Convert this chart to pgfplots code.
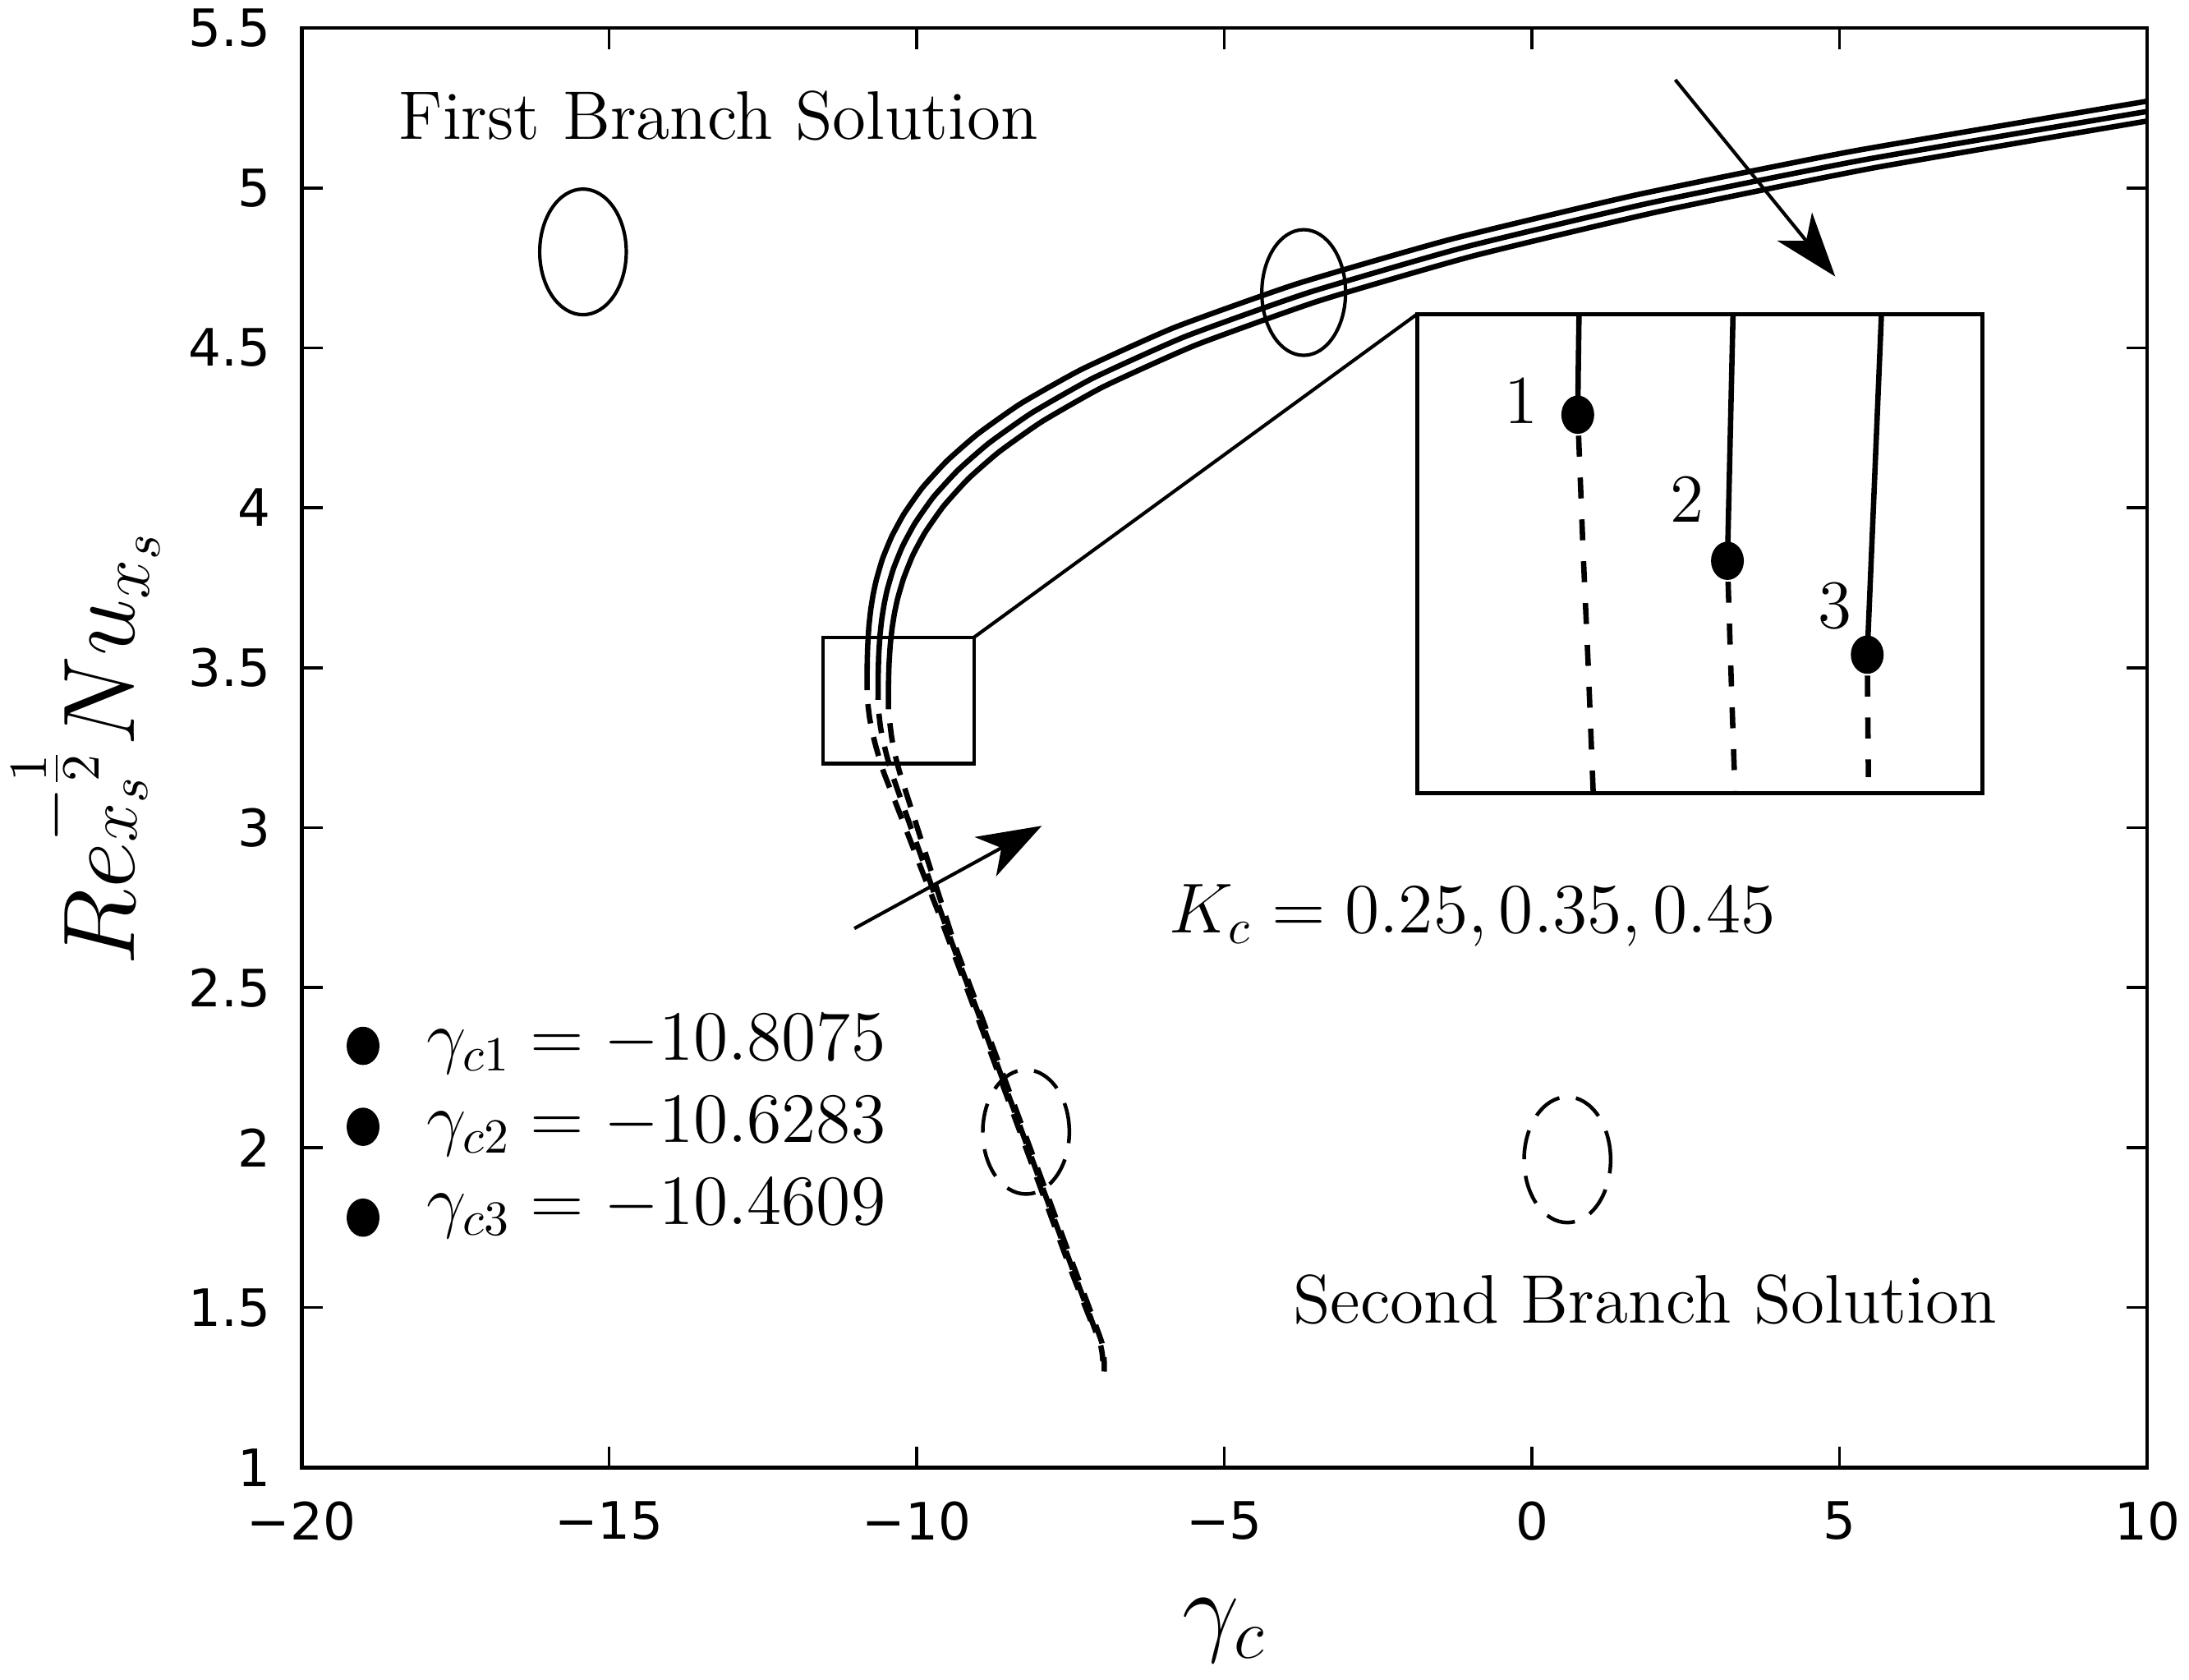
\documentclass[border=0pt]{standalone}
\usepackage{fontspec}
\usepackage{pgfplots}
\pgfplotsset{compat=1.18}
\usetikzlibrary{arrows.meta}
\newfontfamily\tickfont{DejaVu Sans}
\begin{document}
\begin{tikzpicture}
\begin{axis}[
  at={(0,0)}, anchor=south west,
  width=13.22cm, height=10.31cm, scale only axis,
  xmin=-20, xmax=10, ymin=1, ymax=5.5,
  xtick={-20,-15,-10,-5,0,5,10},
  xticklabels={−20,−15,−10,−5,0,5,10},
  ytick={1,1.5,2,2.5,3,3.5,4,4.5,5,5.5},
  yticklabels={1,1.5,2,2.5,3,3.5,4,4.5,5,5.5},
  tick align=inside,
  major tick length=1.5mm,
  tick style={black, line width=0.6pt},
  axis line style={line width=0.8pt},
  ticklabel style={font=\tickfont\fontsize{10.5}{12}\selectfont},
  xticklabel style={yshift=-1.2mm},
  yticklabel style={xshift=-1mm},
  xlabel={$\gamma_c$},
  ylabel={$Re_{x_s}^{-\frac{1}{2}}Nu_{x_s}$},
  xlabel style={font=\fontsize{22}{24}\selectfont, at={(axis description cs:0.5,-0.1135)}, anchor=center},
  ylabel style={font=\fontsize{22}{24}\selectfont, at={(axis description cs:-0.0908,0.5)}, anchor=base},
  clip=false,
]
% first branch (solid)
\addplot[black, line width=1.1pt, smooth, tension=0.3] coordinates {
(-10.8075,3.430) (-10.8055,3.509) (-10.7975,3.567) (-10.7775,3.629) (-10.7475,3.682)
(-10.7075,3.730) (-10.6575,3.774) (-10.5575,3.840) (-10.4075,3.910) (-10.2075,3.981)
(-9.9075,4.063) (-9.5075,4.147) (-9.0075,4.231) (-8.3075,4.326) (-7.3075,4.434)
(-5.8075,4.564) (-3.8075,4.701) (-1.3075,4.840) (1.6925,4.978) (5.1925,5.114) (10,5.271)};
\addplot[black, line width=1.1pt, smooth, tension=0.3] coordinates {
(-10.6283,3.400) (-10.6263,3.479) (-10.6183,3.537) (-10.5983,3.599) (-10.5683,3.652)
(-10.5283,3.700) (-10.4783,3.745) (-10.3783,3.810) (-10.2283,3.881) (-10.0283,3.952)
(-9.7283,4.034) (-9.3283,4.118) (-8.8283,4.202) (-8.1283,4.297) (-7.1283,4.406)
(-5.6283,4.536) (-3.6283,4.673) (-1.1283,4.813) (1.8717,4.951) (5.3717,5.087) (10,5.239)};
\addplot[black, line width=1.1pt, smooth, tension=0.3] coordinates {
(-10.4609,3.370) (-10.4589,3.450) (-10.4509,3.508) (-10.4309,3.570) (-10.4009,3.623)
(-10.3609,3.671) (-10.3109,3.716) (-10.2109,3.781) (-10.0609,3.853) (-9.8609,3.924)
(-9.5609,4.006) (-9.1609,4.091) (-8.6609,4.175) (-7.9609,4.270) (-6.9609,4.379)
(-5.4609,4.509) (-3.4609,4.647) (-0.9609,4.787) (2.0391,4.925) (5.5391,5.062) (10,5.209)};
% second branch (dashed)
\addplot[black, line width=1.1pt, smooth, tension=0.3, dash pattern=on 1.4mm off 1mm, dash phase=1.4mm] coordinates {
(-10.8075,3.430) (-10.794,3.387) (-10.767,3.344) (-10.724,3.300) (-10.667,3.256)
(-10.603,3.213) (-10.529,3.169) (-10.352,3.082) (-10.175,2.995) (-9.998,2.907)
(-9.821,2.820) (-9.644,2.733) (-9.414,2.615) (-8.938,2.370) (-8.461,2.122)
(-7.985,1.873) (-7.508,1.624) (-7.134,1.441)};
\addplot[black, line width=1.1pt, smooth, tension=0.3, dash pattern=on 1.4mm off 1mm, dash phase=1.4mm] coordinates {
(-10.6283,3.400) (-10.615,3.357) (-10.588,3.313) (-10.544,3.270) (-10.488,3.226)
(-10.424,3.182) (-10.349,3.139) (-10.188,3.051) (-10.027,2.964) (-9.866,2.877)
(-9.705,2.789) (-9.544,2.702) (-9.380,2.615) (-8.904,2.370) (-8.428,2.122)
(-7.951,1.873) (-7.474,1.624) (-7.021,1.388) (-6.975,1.332)};
\addplot[black, line width=1.1pt, smooth, tension=0.3, dash pattern=on 1.4mm off 1mm, dash phase=1.4mm] coordinates {
(-10.4609,3.370) (-10.436,3.326) (-10.408,3.283) (-10.365,3.239) (-10.309,3.195)
(-10.245,3.152) (-10.170,3.108) (-10.025,3.021) (-9.880,2.933) (-9.735,2.846)
(-9.589,2.759) (-9.444,2.671) (-9.346,2.615) (-8.870,2.370) (-8.393,2.122)
(-7.917,1.873) (-7.440,1.624) (-6.987,1.388) (-6.952,1.300)};
% legend dots
\addplot[only marks, mark=*, mark size=1.3mm, mark options={xscale=0.85, fill=black}] coordinates {
(-19.0,2.318) (-19.0,2.065) (-19.0,1.781)};
% annotations
\draw[line width=0.7pt] (axis cs:-15.425,4.80) ellipse [x radius=3.1mm, y radius=4.5mm];
\draw[line width=0.7pt] (axis cs:-3.71,4.673) ellipse [x radius=3.0mm, y radius=4.5mm];
\draw[line width=0.75pt, dash pattern=on 2.1mm off 1.2mm] (axis cs:-8.223,2.049) ellipse [x radius=3.1mm, y radius=4.45mm];
\draw[line width=0.75pt, dash pattern=on 2.1mm off 1.2mm] (axis cs:0.576,1.962) ellipse [x radius=3.1mm, y radius=4.5mm];
\draw[line width=0.75pt] (axis cs:-11.52,3.20) rectangle (axis cs:-9.07,3.595);
\draw[line width=0.7pt] (axis cs:-9.07,3.595) -- (axis cs:-1.870,4.605);
\draw[line width=0.7pt, -{Stealth[length=4.6mm,width=3.2mm,inset=1.3mm]}] (axis cs:2.33,5.338) -- (axis cs:4.93,4.723);
\draw[line width=0.7pt, -{Stealth[length=4.6mm,width=3.2mm,inset=1.3mm]}] (axis cs:-11.014,2.685) -- (axis cs:-7.967,3.006);
\node[anchor=base west, inner sep=0pt, font=\fontsize{14}{16}\selectfont] at (axis cs:-18.434,5.153) {First Branch Solution};
\node[anchor=base east, inner sep=0pt, font=\fontsize{14}{16}\selectfont] at (axis cs:7.57,1.452) {Second Branch Solution};
\node[anchor=base west, inner sep=0pt, font=\fontsize{14}{16}\selectfont] at (axis cs:-5.909,2.672) {$K_c=0.25, 0.35, 0.45$};
\node[anchor=base west, inner sep=0pt, font=\fontsize{14}{16}\selectfont] at (axis cs:-17.98,2.274) {$\gamma_{c1}=-10.8075$};
\node[anchor=base west, inner sep=0pt, font=\fontsize{14}{16}\selectfont] at (axis cs:-17.98,2.017) {$\gamma_{c2}=-10.6283$};
\node[anchor=base west, inner sep=0pt, font=\fontsize{14}{16}\selectfont] at (axis cs:-17.98,1.759) {$\gamma_{c3}=-10.4609$};
\end{axis}
% inset
\begin{axis}[
  at={(7.99cm,4.83cm)}, anchor=south west,
  width=4.05cm, height=3.43cm, scale only axis,
  xmin=-11.0, xmax=-10.323, ymin=3.30, ymax=3.60,
  ticks=none, axis line style={line width=0.8pt}, clip=false,
]
\addplot[black, line width=1.1pt] coordinates {(-10.806,3.60) (-10.8068,3.57) (-10.8075,3.537)};
\addplot[black, line width=1.1pt] coordinates {(-10.6216,3.60) (-10.6283,3.4455)};
\addplot[black, line width=1.1pt] coordinates {(-10.4439,3.60) (-10.4527,3.489) (-10.4609,3.3867)};
\addplot[black, line width=1.1pt, dash pattern=on 1.5mm off 1.5mm, dash phase=1.5mm] coordinates {(-10.8075,3.537) (-10.801,3.45) (-10.795,3.38) (-10.789,3.30)};
\addplot[black, line width=1.1pt, dash pattern=on 1.5mm off 1.5mm, dash phase=1.5mm] coordinates {(-10.6283,3.4455) (-10.6237,3.37) (-10.6192,3.30)};
\addplot[black, line width=1.1pt, dash pattern=on 1.5mm off 1.5mm, dash phase=1.5mm] coordinates {(-10.4609,3.3867) (-10.4595,3.31)};
\addplot[only marks, mark=*, mark size=1.3mm, mark options={xscale=0.85, fill=black}] coordinates {
(-10.8075,3.537) (-10.6283,3.4455) (-10.4609,3.3867)};
\node[font=\fontsize{14}{16}\selectfont] at (axis cs:-10.875,3.546) {1};
\node[font=\fontsize{14}{16}\selectfont] at (axis cs:-10.677,3.484) {2};
\node[font=\fontsize{14}{16}\selectfont] at (axis cs:-10.50,3.417) {3};
\end{axis}
\pgfresetboundingbox
\path (-2.16cm,-1.52cm) rectangle (13.52cm,10.51cm);
\end{tikzpicture}
\end{document}
